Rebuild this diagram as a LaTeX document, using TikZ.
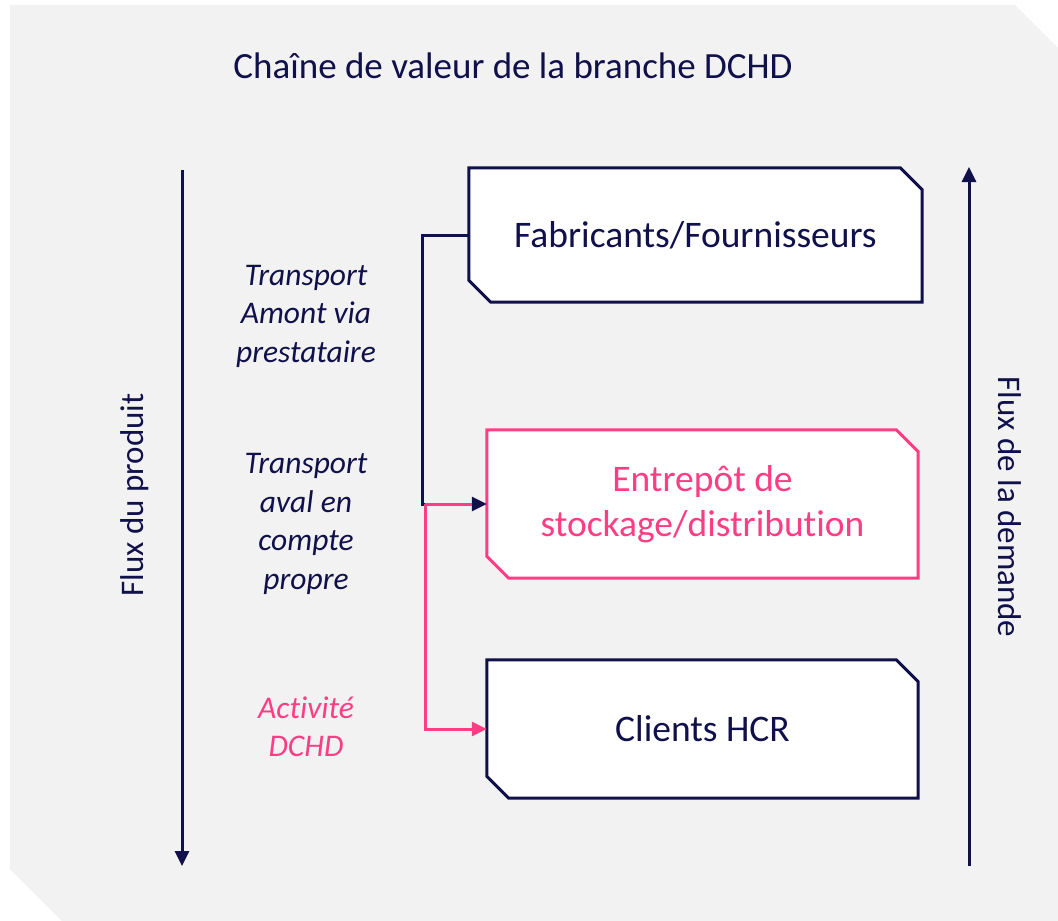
\documentclass[tikz,border=0pt]{standalone}
\usepackage{fontspec}
\setmainfont{Carlito}[Ligatures=NoCommon]
\usetikzlibrary{arrows.meta}
\definecolor{navy}{HTML}{10104A}
\definecolor{rose}{HTML}{FF3D85}
\definecolor{bggray}{HTML}{F2F2F2}
\begin{document}
\begin{tikzpicture}[x=1pt,y=-1pt,
  boxnode/.style={minimum width=#1, inner sep=0pt, align=center, font=\fontsize{37.5}{44.5}\selectfont},
  outline/.style={line width=3pt, fill=white, line join=miter},
  darkline/.style={draw=navy, line width=3pt},
  pinkline/.style={draw=rose, line width=3pt},
  tip/.style={-{Triangle[length=15pt,width=14pt]}},
  label/.style={align=center, font=\fontsize{31.5}{38.5}\selectfont\itshape},
  sidelabel/.style={font=\fontsize{33}{36}\selectfont, text=navy}]
\useasboundingbox (0,0) rectangle (1058,921);
\fill[bggray] (10,5) -- (1015,5) -- (1058,48) -- (1058,921) -- (62,921) -- (10,869) -- cycle;

\node[text=navy, font=\fontsize{37}{40}\selectfont] (title) at (513,66) {Chaîne de valeur de la branche DCHD};

% boxes
\node[boxnode=453pt, minimum height=134pt] (b1) at (695.5,235) {};
\node[boxnode=431pt, minimum height=148pt] (b2) at (702.5,504) {};
\node[boxnode=431pt, minimum height=138pt] (b3) at (702.5,729) {};

\draw[outline, draw=navy] (b1.north west) -- ([xshift=-22pt]b1.north east) -- ([yshift=-22pt]b1.north east) -- (b1.south east) -- ([xshift=22pt]b1.south west) -- ([yshift=22pt]b1.south west) -- cycle;
\draw[outline, draw=rose] (b2.north west) -- ([xshift=-22pt]b2.north east) -- ([yshift=-22pt]b2.north east) -- (b2.south east) -- ([xshift=22pt]b2.south west) -- ([yshift=22pt]b2.south west) -- cycle;
\draw[outline, draw=navy] (b3.north west) -- ([xshift=-22pt]b3.north east) -- ([yshift=-22pt]b3.north east) -- (b3.south east) -- ([xshift=22pt]b3.south west) -- ([yshift=22pt]b3.south west) -- cycle;

\node[boxnode=420pt, text=navy] (t1) at (b1.center) {Fabricants/Fournisseurs};
\node[boxnode=420pt, text=rose] (t2) at (b2.center) {Entrepôt de\\stockage/distribution};
\node[boxnode=420pt, text=navy] (t3) at (b3.center) {Clients HCR};

% connectors
\coordinate (j1) at (422,504);
\coordinate (p1) at (425,504);
\coordinate (p2) at (425,729);
\coordinate (p3) at (472,504);
\draw[darkline, tip] (b1.west) -| (j1) -- (b2.west);
\draw[pinkline] (p1) -- (p3);
\draw[pinkline, tip] (p1) -- (p2) -- (b3.west);

% side arrows
\coordinate (la1) at (182,170);
\coordinate (la2) at (182,866);
\coordinate (ra1) at (969,866);
\coordinate (ra2) at (969,167);
\draw[darkline, tip] (la1) -- (la2);
\draw[darkline, tip] (ra1) -- (ra2);

\node[sidelabel, rotate=90] (fl) at (135,495) {Flux du produit};
\node[sidelabel, rotate=-90] (fr) at (1010,507) {Flux de la demande};

% labels
\node[label, text=navy] (l1) at (306,316) {Transport\\Amont via\\prestataire};
\node[label, text=navy] (l2) at (306,524) {Transport\\aval en\\compte\\propre};
\node[label, text=rose] (l3) at (306,727) {Activité\\DCHD};
\end{tikzpicture}
\end{document}
